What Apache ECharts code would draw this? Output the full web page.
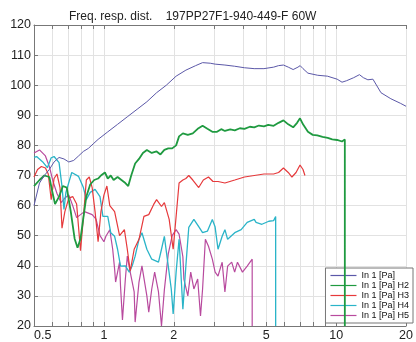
<!DOCTYPE html>
<html>
<head>
<meta charset="utf-8">
<script src="https://cdn.jsdelivr.net/npm/echarts@6/dist/echarts.min.js"></script>
<style>
  html, body { margin: 0; padding: 0; background: #fff; }
  #chart { width: 416px; height: 342px; }
</style>
</head>
<body>
<div id="chart"></div>
<script>
// frequencies in kHz, levels in dB
const xTicks = [0.5, 0.6, 0.7, 0.8, 0.9, 1, 2, 3, 4, 5, 6, 7, 8, 9, 10, 20];
const xLabels = [0.5, 1, 2, 5, 10, 20];
const names = ['In 1 [Pa]', 'In 1 [Pa] H2', 'In 1 [Pa] H3', 'In 1 [Pa] H4', 'In 1 [Pa] H5'];

const fundFreq = [0.5, 0.528, 0.554, 0.582, 0.61, 0.641, 0.673, 0.706, 0.741, 0.778, 0.816, 0.857, 0.899, 0.944, 1.039, 1.145, 1.261, 1.39, 1.531, 1.686, 1.857, 2.046, 2.254, 2.483, 2.66, 2.871, 3.013, 3.319, 3.656, 4.027, 4.437, 4.887, 5.383, 5.65, 5.93, 6.22, 6.53, 6.85, 7.0, 7.2, 7.56, 8.33, 9.17, 10.1, 10.6, 11.1, 11.9, 12.6, 13.1, 13.7, 14.4, 15.6, 17.2, 18.9, 20];
const fundDb = [60, 67.5, 70, 72, 74.5, 76, 75.5, 74.5, 75, 76.5, 78, 79, 80.5, 82, 84.5, 87, 89.5, 92, 94.5, 97.5, 100, 103, 105, 106.5, 107.5, 107.3, 107, 106.7, 106.3, 105.8, 105.5, 105.5, 106, 106.5, 106.7, 106, 105.2, 106, 106.5, 105.5, 104, 103.3, 103, 102, 101, 101.5, 102.5, 103.5, 102.5, 101.8, 102, 97.5, 95.5, 94, 93];

const h2Freq = [0.5, 0.528, 0.554, 0.582, 0.598, 0.616, 0.641, 0.666, 0.692, 0.72, 0.748, 0.77, 0.793, 0.816, 0.84, 0.873, 0.908, 0.944, 0.971, 1.01, 1.039, 1.07, 1.101, 1.145, 1.19, 1.237, 1.273, 1.311, 1.363, 1.416, 1.472, 1.531, 1.607, 1.686, 1.752, 1.821, 1.893, 1.968, 2.046, 2.107, 2.188, 2.298, 2.414, 2.534, 2.66, 2.79, 2.93, 3.07, 3.2, 3.32, 3.5, 3.66, 3.85, 4.03, 4.25, 4.44, 4.65, 4.89, 5.1, 5.38, 5.65, 5.93, 6.22, 6.53, 6.79, 6.99, 7.2, 7.56, 7.93, 8.3, 8.74, 9.2, 9.62, 10.1, 10.6, 10.9, 10.9];
const h2Db = [66.5, 68.5, 70, 69.5, 65, 60.5, 63, 66.5, 66, 58, 49, 46, 49, 56, 63, 67, 68.5, 69, 70, 71, 69, 70, 68.5, 69.5, 68.5, 67.5, 66.5, 70, 74, 75.5, 77.5, 78.5, 77.5, 78, 77, 78.5, 79, 79, 80, 83, 84, 83.5, 84, 85.5, 86.5, 85.5, 84.5, 84.5, 85.4, 84.8, 85.3, 85, 85.7, 85.5, 86.2, 86, 86.6, 86.3, 86.8, 86.5, 87.5, 88.3, 87, 86, 87.5, 89, 87, 84.5, 83.5, 83.3, 82.8, 82.5, 82, 81.8, 81.3, 82, 20];

const h3Freq = [0.5, 0.518, 0.538, 0.56, 0.576, 0.593, 0.61, 0.628, 0.647, 0.66, 0.679, 0.706, 0.734, 0.763, 0.793, 0.816, 0.84, 0.865, 0.89, 0.916, 0.944, 0.971, 1.0, 1.03, 1.06, 1.112, 1.168, 1.225, 1.261, 1.298, 1.35, 1.416, 1.487, 1.56, 1.638, 1.686, 1.77, 1.821, 1.91, 1.987, 2.046, 2.107, 2.188, 2.254, 2.32, 2.414, 2.56, 2.68, 2.82, 2.95, 3.1, 3.32, 3.66, 4.03, 4.44, 4.89, 5.38, 5.65, 5.93, 6.22, 6.45, 6.72, 6.99, 7.2, 7.34];
const h3Db = [69.5, 72, 73, 72.5, 70.5, 62, 69, 70.5, 66, 52.5, 58, 62.5, 63, 60.5, 45, 56, 68.5, 69.5, 66, 58, 48, 58, 63.5, 66.5, 60, 58, 50, 52, 45.5, 38.2, 45.5, 48.8, 56.4, 57, 60.4, 62, 59.7, 61, 55.4, 45.5, 56.4, 67.5, 68.5, 69, 70, 68.5, 66, 68.5, 69.5, 68, 68, 67.5, 68.5, 69.5, 70, 70.5, 70.5, 71, 72.5, 71, 69.5, 71, 73.5, 72, 70];

const h4Freq = [0.5, 0.513, 0.544, 0.571, 0.593, 0.61, 0.641, 0.66, 0.673, 0.686, 0.727, 0.778, 0.816, 0.84, 0.873, 0.916, 0.962, 0.99, 1.039, 1.07, 1.112, 1.145, 1.179, 1.237, 1.286, 1.324, 1.363, 1.416, 1.458, 1.531, 1.607, 1.718, 1.77, 1.821, 1.893, 1.95, 1.987, 2.046, 2.107, 2.188, 2.254, 2.32, 2.44, 2.56, 2.66, 2.79, 2.93, 3.01, 3.1, 3.23, 3.32, 3.41, 3.66, 3.9, 4.14, 4.44, 4.52, 4.79, 5.13, 5.38, 5.49, 5.49];
const h4Db = [76, 76.3, 74.6, 72.6, 75.9, 76.3, 74.3, 66.4, 58.7, 64.4, 71, 69.7, 66, 62, 64.4, 65.4, 63, 56.4, 56.4, 51, 49.8, 45.5, 39.9, 40, 37.9, 40, 43.2, 48.8, 51, 45.5, 42.2, 41.2, 45.5, 49.8, 39.9, 32.3, 24, 37.9, 48.8, 25.6, 40, 52.8, 55.4, 53, 51, 51.5, 55.4, 53, 45.5, 49.8, 52, 48.8, 51, 52, 54.4, 55.4, 54.4, 53.8, 54.8, 55, 56.4, 20];

const h5Freq = [0.5, 0.528, 0.56, 0.582, 0.604, 0.628, 0.654, 0.679, 0.706, 0.734, 0.763, 0.793, 0.824, 0.857, 0.89, 0.925, 0.962, 1.0, 1.02, 1.06, 1.091, 1.112, 1.123, 1.168, 1.179, 1.202, 1.237, 1.261, 1.298, 1.35, 1.363, 1.416, 1.458, 1.531, 1.56, 1.607, 1.654, 1.718, 1.77, 1.821, 1.893, 1.968, 2.046, 2.107, 2.188, 2.21, 2.298, 2.365, 2.44, 2.534, 2.606, 2.66, 2.735, 2.82, 2.93, 3.013, 3.1, 3.23, 3.319, 3.41, 3.55, 3.656, 3.76, 3.95, 4.14, 4.35, 4.35];
const h5Db = [77.5, 78.5, 76.5, 73, 68, 64, 61, 62.5, 63.5, 60, 56, 57, 58, 57.5, 57, 55.5, 50, 48, 49.8, 52, 45.5, 38.9, 34.6, 41.2, 33.3, 22, 35.6, 43.2, 37.9, 31.3, 21.3, 34.6, 40, 30, 24.6, 32.3, 37.9, 31.3, 20, 32, 44, 50, 52, 50.5, 43, 35.6, 30, 37.9, 32.3, 35.6, 23.3, 32.3, 48.8, 46.5, 42.2, 37.9, 36.6, 41.2, 31.3, 39.9, 41.2, 37.9, 41.2, 37.9, 39.9, 42.2, 20];

const colors = ['#5b58a8', '#1f9a40', '#e6393b', '#2ab4c8', '#b84a9e'];
const widths = [1, 1.8, 1.2, 1.3, 1.2];
const freqs = [fundFreq, h2Freq, h3Freq, h4Freq, h5Freq];
const levels = [fundDb, h2Db, h3Db, h4Db, h5Db];

const zip = (a, b) => a.map((v, i) => [v, b[i]]);

const chart = echarts.init(document.getElementById('chart'));

const baseX = {
  type: 'log',
  min: 0.5,
  max: 20,
  axisLine: { show: true, lineStyle: { color: '#777' } },
  axisTick: { inside: true, length: 4, customValues: xTicks, lineStyle: { color: '#777' } },
};

chart.setOption({
  animation: false,
  backgroundColor: '#fff',
  textStyle: { fontFamily: 'Liberation Sans' },
  title: {
    text: 'Freq. resp. dist.    197PP27F1-940-449-F 60W',
    left: 64,
    top: 6,
    textStyle: { fontSize: 12, fontWeight: 'normal', color: '#222' }
  },
  legend: {
    data: names,
    orient: 'vertical',
    right: 3,
    bottom: 19,
    icon: 'rect',
    itemWidth: 26,
    itemHeight: 1.2,
    itemGap: 1,
    padding: [3, 4, 3, 5],
    backgroundColor: '#fff',
    borderColor: '#777',
    borderWidth: 1,
    textStyle: { fontSize: 9, color: '#111' }
  },
  grid: { left: 34, right: 0, top: 25, bottom: 15 },
  xAxis: [
    Object.assign({}, baseX, {
      position: 'bottom',
      axisLabel: {
        customValues: xLabels,
        fontSize: 12.5,
        color: '#222',
        margin: 3,
        alignMinLabel: 'left',
        alignMaxLabel: 'center',
        formatter: v => String(Math.round(v * 10) / 10)
      },
      splitLine: { show: true, lineStyle: { color: '#e2e2e2' } }
    }),
    Object.assign({}, baseX, {
      position: 'top',
      axisLabel: { show: false },
      splitLine: { show: false }
    })
  ],
  yAxis: {
    type: 'value',
    min: 20,
    max: 120,
    interval: 10,
    axisLine: { show: true, lineStyle: { color: '#777' } },
    axisTick: { show: true, inside: true, length: 4, lineStyle: { color: '#777' } },
    axisLabel: { fontSize: 12.5, color: '#222', margin: 3 },
    splitLine: { lineStyle: { color: '#e2e2e2' } }
  },
  series: names.map((n, i) => ({
    name: n,
    type: 'line',
    xAxisIndex: 0,
    data: zip(freqs[i], levels[i]),
    symbol: 'none',
    color: colors[i],
    lineStyle: { width: widths[i], color: colors[i] },
    z: 5 - i
  }))
});

window.addEventListener('resize', function () {
  chart.resize();
});
</script>
</body>
</html>
